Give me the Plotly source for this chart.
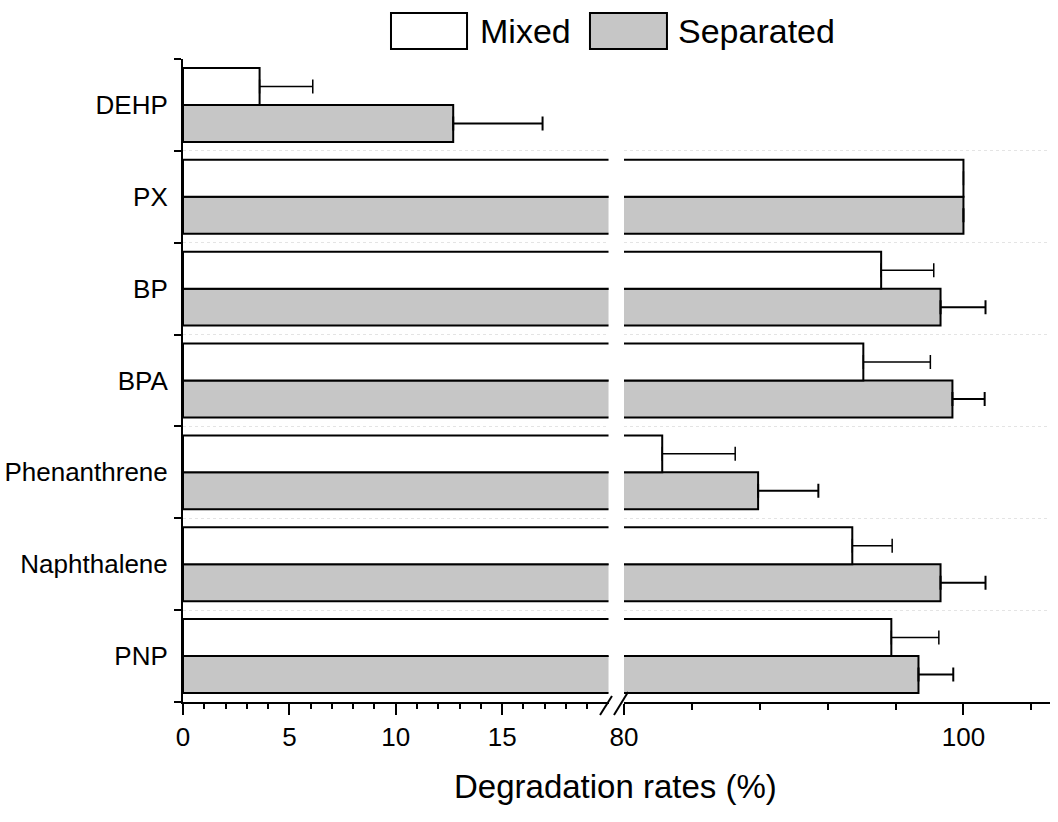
import plotly.graph_objects as go

# categories from bottom to top
compounds = ["PNP", "Naphthalene", "Phenanthrene", "BPA", "BP", "PX", "DEHP"]

mixed = [95.75, 93.45, 82.25, 94.1, 95.15, 100.0, 3.6]
mixed_err = [2.8, 2.35, 4.3, 3.95, 3.1, 0.0, 2.5]

separated = [97.35, 98.65, 87.9, 99.35, 98.65, 100.0, 12.7]
separated_err = [2.05, 2.65, 3.55, 1.9, 2.65, 0.0, 4.2]

left_ticks = [0, 5, 10, 15]

FONT = "Arial, Liberation Sans, sans-serif"
GRAY = "#c6c6c6"

fig = go.Figure()

# same bars on both halves of the broken axis, plotly clips what is out of range
for xa in ["x", "x2"]:
    fig.add_trace(go.Bar(
        y=compounds, x=separated, orientation="h", name="Separated",
        xaxis=xa, yaxis="y",
        marker=dict(color=GRAY, line=dict(color="black", width=2)),
        error_x=dict(type="data", array=separated_err, symmetric=False,
                     arrayminus=[0] * len(separated), color="black",
                     thickness=2, width=7),
        showlegend=False,
    ))
    fig.add_trace(go.Bar(
        y=compounds, x=mixed, orientation="h", name="Mixed",
        xaxis=xa, yaxis="y",
        marker=dict(color="white", line=dict(color="black", width=2)),
        error_x=dict(type="data", array=mixed_err, symmetric=False,
                     arrayminus=[0] * len(mixed), color="black",
                     thickness=1.5, width=7),
        showlegend=False,
    ))

axis_common = dict(
    showline=True, linecolor="black", linewidth=2,
    ticks="outside", ticklen=11, tickwidth=2, tickcolor="black",
    showgrid=False, zeroline=False, automargin=False,
    tickfont=dict(family=FONT, size=26, color="black"),
)

fig.update_layout(
    width=1058, height=822,
    margin=dict(l=183, r=8, t=59, b=120),
    plot_bgcolor="white", paper_bgcolor="white",
    barmode="group", bargap=0.195, bargroupgap=0,
    font=dict(family=FONT, color="black"),
    xaxis=dict(
        domain=[0, 0.4908], range=[0, 20], anchor="y",
        tickvals=left_ticks,
        minor=dict(tickvals=list(range(1, 20)), ticks="outside", ticklen=5,
                   tickwidth=2, tickcolor="black"),
        **axis_common,
    ),
    xaxis2=dict(
        domain=[0.5087, 1.0], range=[80, 105.1], anchor="y",
        tick0=80, dtick=20,
        minor=dict(dtick=4, tick0=80, ticks="outside", ticklen=6,
                   tickwidth=2, tickcolor="black"),
        **axis_common,
    ),
    yaxis=dict(
        categoryorder="array", categoryarray=compounds,
        tickson="boundaries", ticks="outside", ticklen=7, tickwidth=2,
        tickcolor="black", showline=True, linecolor="black", linewidth=2,
        showgrid=True, gridcolor="#e4e4e4", griddash="dot", gridwidth=1,
        automargin=False,
        tickfont=dict(family=FONT, size=26, color="black"),
        ticklabelstandoff=8,
    ),
)

# axis title
fig.add_annotation(
    text="Degradation rates (%)", xref="paper", yref="paper",
    x=0.4994, y=-0.132, showarrow=False, xanchor="center", yanchor="middle",
    font=dict(family=FONT, size=33, color="black"),
)

# break marks on the x axis
for x0, y0, x1, y1 in [(0.481, -0.0202, 0.4948, 0.0093),
                       (0.4971, -0.0202, 0.5133, 0.0156)]:
    fig.add_shape(type="line", xref="paper", yref="paper",
                  x0=x0, y0=y0, x1=x1, y1=y1,
                  line=dict(color="black", width=2))

# legend drawn by hand to get the large swatches
legend_items = [("Mixed", "white", 0.2399, 0.3276, 0.3403),
                ("Separated", GRAY, 0.4694, 0.5582, 0.5686)]
for label, fill, bx0, bx1, tx in legend_items:
    fig.add_shape(type="rect", xref="paper", yref="paper",
                  x0=bx0, x1=bx1, y0=1.0156, y1=1.0715,
                  fillcolor=fill, line=dict(color="black", width=2))
    fig.add_annotation(text=label, xref="paper", yref="paper",
                       x=tx, y=1.0435, showarrow=False,
                       xanchor="left", yanchor="middle",
                       font=dict(family=FONT, size=34, color="black"))

# drop the default 8px body margin so the figure fills the window
fig.write_html("out.html", config={"displayModeBar": False},
               post_script="document.body.style.margin='0px';")
